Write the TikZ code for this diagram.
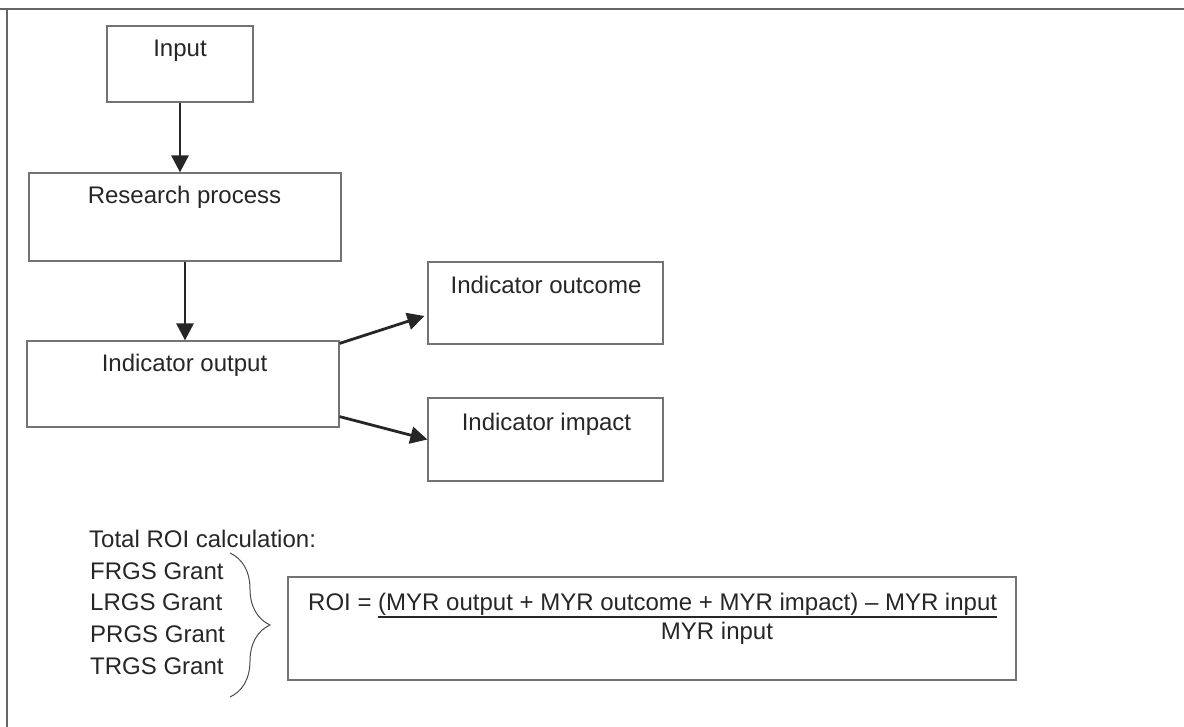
\documentclass[tikz,border=0pt]{standalone}
\usepackage{fontspec}
\setmainfont{Liberation Sans}
\newcommand\ulbar[1]{\vtop{\hbox{#1}\kern1.2pt\hrule height 1.8pt}}
\usetikzlibrary{arrows.meta,decorations.pathreplacing}

\begin{document}
\begin{tikzpicture}[x=1pt,y=-1pt,
	font=\fontsize{24}{29}\selectfont,
	box/.style={draw=black!55,line width=1.2pt,inner sep=0pt},
	txt/.style={anchor=base,inner sep=0pt,text=black!85},
	arr/.style={line width=2.8pt,draw=black!85,-{Triangle[length=17pt,width=17pt]}}]
\useasboundingbox (0,0) rectangle (1184,727);
% frame
\draw[black!60,line width=1.2pt] (0,9) -- (1184,9) (7,9) -- (7,727);
% boxes
\node[box,minimum width=146pt,minimum height=76pt] (input) at (180,64) {};
\node[box,minimum width=312pt,minimum height=88pt] (research) at (185,217) {};
\node[box,minimum width=312pt,minimum height=86pt] (output) at (183,384) {};
\node[box,minimum width=235pt,minimum height=82pt] (outcome) at (545.5,303) {};
\node[box,minimum width=235pt,minimum height=83pt] (impact) at (545.5,439.5) {};
\node[box,minimum width=728pt,minimum height=103pt] (roi) at (652,628.5) {};
% labels
\node[txt] (inputtxt) at (180,57) {Input};
\node[txt] (researchtxt) at (184.5,204) {Research process};
\node[txt] (outputtxt) at (184.5,372) {Indicator output};
\node[txt] (outcometxt) at (546,294) {Indicator outcome};
\node[txt] (impacttxt) at (546.5,430) {Indicator impact};
% arrows
\draw[arr] (input.south) -- (input.south |- research.north);
\draw[arr] (research.south) -- (research.south |- output.north);
\draw[arr] ([yshift=-3pt]output.north east) -- ([xshift=-3pt,yshift=-13pt]outcome.west);
\draw[arr] ([yshift=11pt]output.south east) -- (impact.west);
% ROI part
\node[txt,anchor=base west] (total) at (89,547) {Total ROI calculation:};
\node[txt,anchor=base west] (frgs) at (90,579) {FRGS Grant};
\node[txt,anchor=base west] (lrgs) at (90,610) {LRGS Grant};
\node[txt,anchor=base west] (prgs) at (90,642) {PRGS Grant};
\node[txt,anchor=base west] (trgs) at (90,674) {TRGS Grant};
\coordinate (bracetop) at (230,553);
\coordinate (bracebot) at (230,697);
\draw[black!70,line width=1pt,decorate,decoration={brace,amplitude=40pt}] (bracetop) -- (bracebot);
\node[txt,anchor=base west] (formula) at (308,610)
	{ROI = \ulbar{(MYR output + MYR outcome + MYR impact) -- MYR input}};
\node[txt] (denom) at (717,639) {MYR input};
\end{tikzpicture}
\end{document}
